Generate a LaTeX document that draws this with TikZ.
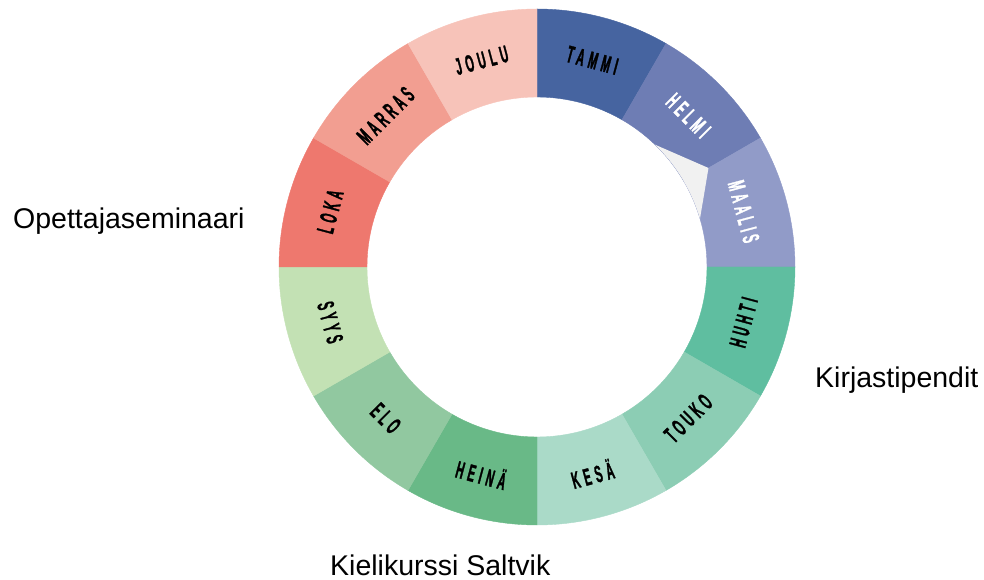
\documentclass[tikz,border=0pt]{standalone}
\usepackage{fontspec}
\setmainfont{Liberation Sans}
\newfontfamily\monthfont{Liberation Sans}[FakeStretch=0.45,FakeBold=1.2,LetterSpace=18]

\definecolor{tammi}{RGB}{70,100,160}
\definecolor{helmi}{RGB}{110,125,180}
\definecolor{maalis}{RGB}{145,155,200}
\definecolor{huhti}{RGB}{95,190,160}
\definecolor{touko}{RGB}{140,205,180}
\definecolor{kesa}{RGB}{170,218,200}
\definecolor{heina}{RGB}{105,185,135}
\definecolor{elo}{RGB}{145,200,160}
\definecolor{syys}{RGB}{195,225,180}
\definecolor{loka}{RGB}{238,120,110}
\definecolor{marras}{RGB}{242,158,145}
\definecolor{joulu}{RGB}{247,195,185}
\definecolor{patch}{RGB}{241,241,241}

\tikzset{
  month/.style={font=\monthfont\bfseries\fontsize{24}{24}\selectfont, inner sep=0pt},
  side/.style={font=\fontsize{28.5}{30}\selectfont, inner sep=0pt, anchor=base west}
}

\begin{document}
\begin{tikzpicture}[x=1pt,y=1pt]
  \useasboundingbox (-537,-313) rectangle (447,267);
  % ring of months, clockwise from the top
  \foreach [count=\i] \lab/\col/\txt in {TAMMI/tammi/black,HELMI/helmi/white,MAALIS/maalis/white,
      HUHTI/huhti/black,TOUKO/touko/black,KESÄ/kesa/black,HEINÄ/heina/black,ELO/elo/black,
      SYYS/syys/black,LOKA/loka/black,MARRAS/marras/black,JOULU/joulu/black} {
    \pgfmathsetmacro\s{120-30*\i}
    \pgfmathsetmacro\e{90-30*\i}
    \filldraw[\col, line width=0.4pt] (\s:170) -- (\s:258) arc[start angle=\s, end angle=\e, radius=258]
      -- (\e:170) arc[start angle=\e, end angle=\s, radius=170] -- cycle;
  }
  % grey gap under helmi
  \fill[patch] (46:170) -- (30:198) -- (16.5:170) arc[start angle=16.5, end angle=46, radius=170] -- cycle;
  % month names
  \foreach [count=\i] \lab/\txt in {TAMMI/black,HELMI/white,MAALIS/white,HUHTI/black,TOUKO/black,
      KESÄ/black,HEINÄ/black,ELO/black,SYYS/black,LOKA/black,MARRAS/black,JOULU/black} {
    \pgfmathsetmacro\m{\i<10 ? 105-30*\i : 465-30*\i}
    \pgfmathsetmacro\r{\m>0 ? \m-90 : \m+90}
    \node[month, text=\txt, rotate=\r] (m\i) at (\m:214) {\lab};
  }
  \node[side] (opettaja) at (-524,38) {Opettajaseminaari};
  \node[side] (stipendit) at (278,-121) {Kirjastipendit};
  \node[side] (kurssi) at (-207,-308) {Kielikurssi Saltvik};
\end{tikzpicture}
\end{document}
